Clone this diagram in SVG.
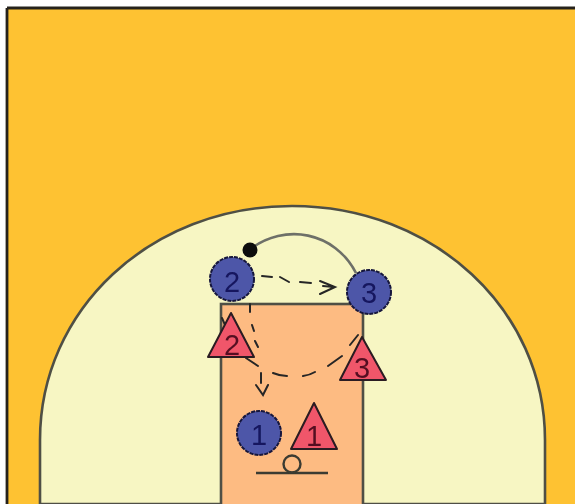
<svg xmlns="http://www.w3.org/2000/svg" width="575" height="504" viewBox="0 0 575 504">
<defs><filter id="soft" x="-2%" y="-2%" width="104%" height="104%"><feGaussianBlur stdDeviation="0.6"/></filter></defs>
<style>
.court{stroke:#4f5045;stroke-width:2.6}
.off{fill:#4d57a8;stroke:#16163c;stroke-width:2;stroke-dasharray:4 1}
.def{fill:#f0566a;stroke:#2a1a20;stroke-width:2;stroke-linejoin:round}
.t{font-family:"Liberation Sans",Arial,sans-serif;font-size:29px;text-anchor:middle}
.to{fill:#17175e}.td{fill:#551020}
.pass{fill:none;stroke:#262626;stroke-width:2;stroke-linecap:round}
.cut{fill:none;stroke:#6e7068;stroke-width:2.6}
</style>
<g filter="url(#soft)">
<g id="court">
<rect width="575" height="504" fill="#fff"/>
<rect x="7" y="8" width="568" height="496" fill="#fec231"/>
<path d="M7 8H575M7 8V504" fill="none" stroke="#26241c" stroke-width="2.8"/>
<path class="court" d="M40 504V440C40 310 150 206 292 206C434 206 545 310 545 440V504Z" fill="#f7f6c3"/>
<rect class="court" x="221" y="304" width="142" height="202" fill="#fdbb82"/>
</g>
<g id="basket">
<path d="M256 473H328" stroke="#3a3a30" stroke-width="2.6" fill="none"/>
<circle cx="292" cy="464" r="8.5" fill="none" stroke="#3a3a30" stroke-width="2.4"/>
</g>
<g id="connectors">
<path class="cut" d="M249 250C285 222 335 232 356 273"/>
<circle cx="250" cy="250" r="7.5" fill="#0c0c0c"/>
<path class="pass" d="M262 276L272 277M280 277L289 282M300 282L311 283M323 286L334 287M320 281L335 287L320 294"/>
<path class="pass" d="M250 304V312M252 325L254 331M255 341L258 347M261 373V383M256 385L263 395L268 385"/>
<path class="pass" d="M222 318L225 325M246 358L258 366M273 373Q280 376 287 376M303 376Q310 375 315 372M328 366L342 356M350 345L358 335"/>
</g>
<g id="off-2"><circle class="off" cx="232" cy="279" r="22"/><text class="t to" x="232" y="292">2</text></g>
<g id="off-3"><circle class="off" cx="369" cy="292" r="22"/><text class="t to" x="369" y="303">3</text></g>
<g id="off-1"><circle class="off" cx="259" cy="433" r="22"/><text class="t to" x="259" y="445">1</text></g>
<g id="def-2"><path class="def" d="M231 313L254 357H208Z"/><text class="t td" x="232" y="355">2</text></g>
<g id="def-3"><path class="def" d="M362 337L386 380H340Z"/><text class="t td" x="362" y="378">3</text></g>
<g id="def-1"><path class="def" d="M314 403L337 449H291Z"/><text class="t td" x="314" y="446">1</text></g>
</g>
</svg>
